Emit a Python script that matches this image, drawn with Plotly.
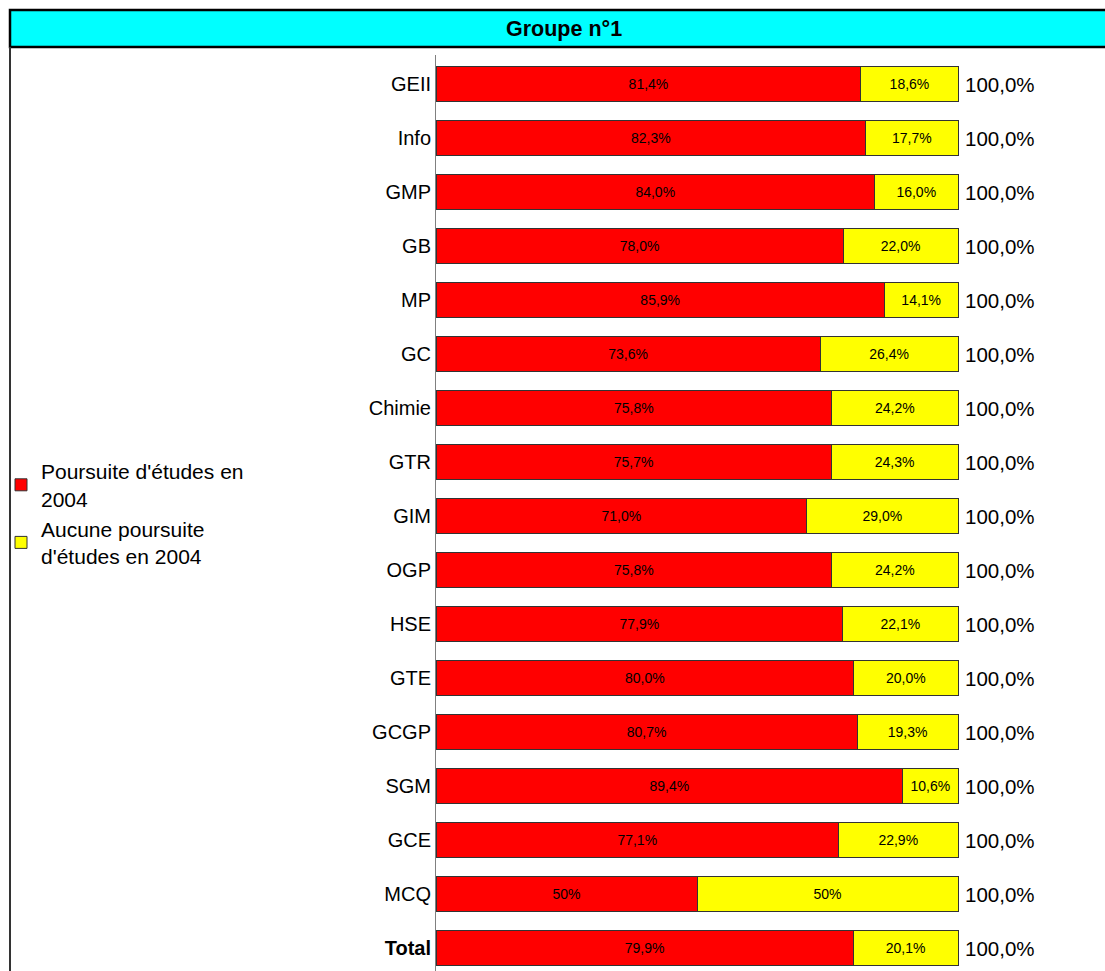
import plotly.graph_objects as go

categories = ["GEII", "Info", "GMP", "GB", "MP", "GC", "Chimie", "GTR", "GIM", "OGP",
              "HSE", "GTE", "GCGP", "SGM", "GCE", "MCQ", "Total"]
tick_labels = ["GEII", "Info", "GMP", "GB", "MP", "GC", "Chimie", "GTR", "GIM", "OGP",
               "HSE", "GTE", "GCGP", "SGM", "GCE", "MCQ", "<b>Total</b>"]
poursuite = [81.4, 82.3, 84.0, 78.0, 85.9, 73.6, 75.8, 75.7, 71.0, 75.8,
             77.9, 80.0, 80.7, 89.4, 77.1, 50.0, 79.9]
aucune = [18.6, 17.7, 16.0, 22.0, 14.1, 26.4, 24.2, 24.3, 29.0, 24.2,
          22.1, 20.0, 19.3, 10.6, 22.9, 50.0, 20.1]
poursuite_labels = ["81,4%", "82,3%", "84,0%", "78,0%", "85,9%", "73,6%", "75,8%", "75,7%",
                    "71,0%", "75,8%", "77,9%", "80,0%", "80,7%", "89,4%", "77,1%", "50%", "79,9%"]
aucune_labels = ["18,6%", "17,7%", "16,0%", "22,0%", "14,1%", "26,4%", "24,2%", "24,3%",
                 "29,0%", "24,2%", "22,1%", "20,0%", "19,3%", "10,6%", "22,9%", "50%", "20,1%"]
series_names = ["Poursuite d'études en<br>2004", "Aucune poursuite<br>d'études en 2004"]
title_text = "Groupe n°1"

FONT = "Liberation Sans, Arial, sans-serif"
W, H = 1105, 971
L, R, T, B = 436, 10, 55, 0
PW, PH = W - L - R, H - T - B
PX_PER_UNIT = 5.22


def px_x(px):
    return (px - L) / PW


def px_y(py):
    return (H - B - py) / PH


fig = go.Figure()
for vals, labs, name, col in [(poursuite, poursuite_labels, series_names[0], "#FF0000"),
                              (aucune, aucune_labels, series_names[1], "#FFFF00")]:
    fig.add_trace(go.Bar(
        y=categories, x=vals, orientation="h", name=name,
        marker=dict(color=col, line=dict(color="#333333", width=1)),
        width=0.63,
        text=labs, textposition="inside", insidetextanchor="middle",
        textfont=dict(family=FONT, size=14, color="black"),
        constraintext="none", hoverinfo="skip",
    ))

annotations = []
for c, a, b in zip(categories, poursuite, aucune):
    tot = a + b
    annotations.append(dict(
        x=tot, y=c, xref="x", yref="y", text=f"{tot:.1f}".replace(".", ",") + "%",
        showarrow=False, xanchor="left", yanchor="middle", xshift=5,
        font=dict(family=FONT, size=20.5, color="black"),
    ))

annotations.append(dict(
    x=px_x(564), y=px_y(28.5), xref="paper", yref="paper", text=f"<b>{title_text}</b>",
    showarrow=False, xanchor="center", yanchor="middle",
    font=dict(family=FONT, size=21.5, color="black"),
))

shapes = [
    dict(type="rect", xref="paper", yref="paper",
         x0=px_x(10), x1=px_x(1125), y0=px_y(47), y1=px_y(10),
         fillcolor="#00FFFF", line=dict(color="black", width=2.5), layer="above"),
    dict(type="line", xref="paper", yref="paper",
         x0=px_x(10), x1=px_x(10), y0=px_y(47), y1=px_y(980),
         line=dict(color="#333333", width=2)),
]

# y range (categorical index), reversed so GEII is on top
y_top = 0 - (84 - T) / 54.0
y_bot = 16 + (H - B - 948) / 54.0

fig.update_layout(
    width=W, height=H,
    margin=dict(l=L, r=R, t=T, b=B, autoexpand=False),
    barmode="stack",
    paper_bgcolor="white", plot_bgcolor="white",
    font=dict(family=FONT, size=20, color="black"),
    showlegend=True,
    legend=dict(x=px_x(1), y=px_y(451), xanchor="left", yanchor="top",
                traceorder="normal", bgcolor="rgba(0,0,0,0)",
                font=dict(family=FONT, size=21, color="black"),
                itemclick=False, itemdoubleclick=False),
    xaxis=dict(range=[0, PW / PX_PER_UNIT], visible=False, showgrid=False, zeroline=False),
    yaxis=dict(type="category", range=[y_bot, y_top], tickmode="array",
               tickvals=categories, ticktext=tick_labels,
               showline=True, linecolor="#808080", linewidth=1,
               ticks="", showgrid=False, zeroline=False, automargin=False,
               ticklabelstandoff=0,
               tickfont=dict(family=FONT, size=20, color="black")),
    annotations=annotations,
    shapes=shapes,
)

fig.write_html("out.html", config={"displayModeBar": False},
               post_script="document.body.style.margin='0px';document.body.style.overflow='hidden';")
